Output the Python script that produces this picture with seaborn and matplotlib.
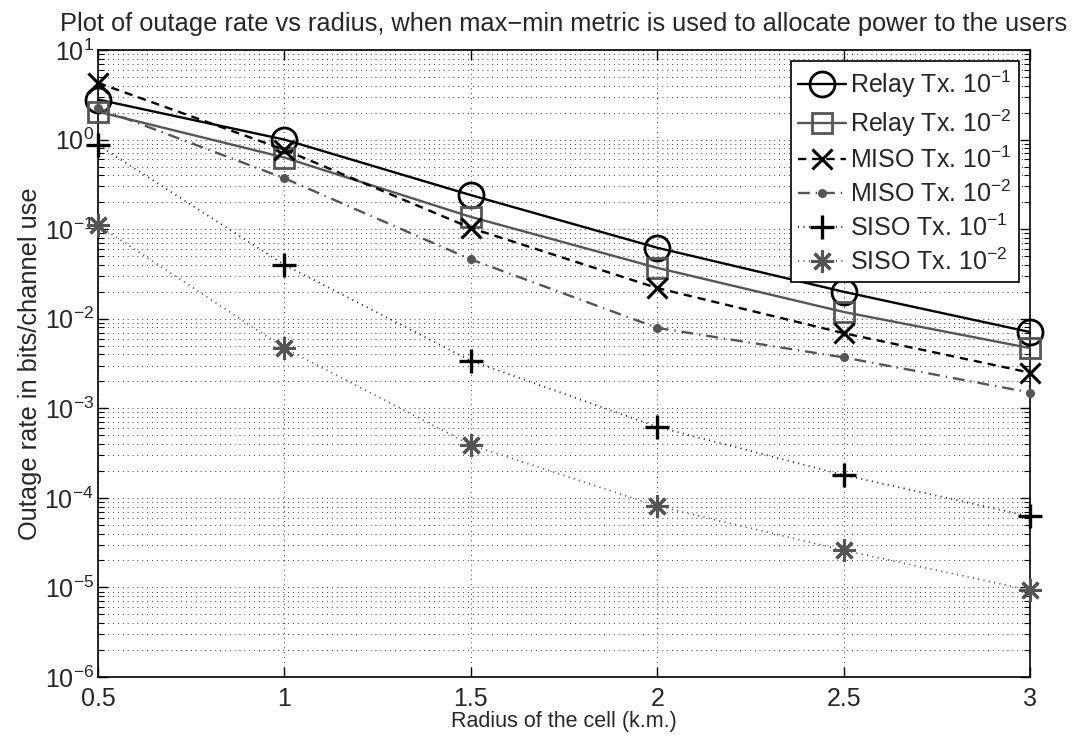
import numpy as np
import pandas as pd
import matplotlib
matplotlib.use("Agg")
import matplotlib.pyplot as plt
import seaborn as sns
from matplotlib.ticker import LogLocator, NullFormatter, FixedLocator, LogFormatterSciNotation

sns.set_style("white")
plt.rcParams['font.family'] = ['Liberation Sans', 'DejaVu Sans']
plt.rcParams['mathtext.fontset'] = 'custom'
plt.rcParams['mathtext.rm'] = 'Liberation Sans'
plt.rcParams['mathtext.it'] = 'Liberation Sans:italic'
plt.rcParams['mathtext.bf'] = 'Liberation Sans:bold'

# ---- data ----
radius = [0.5, 1.0, 1.5, 2.0, 2.5, 3.0]
relay_1 = [2.8, 1.0, 0.24, 0.062, 0.020, 0.0071]
relay_2 = [2.05, 0.63, 0.137, 0.037, 0.0119, 0.0047]
miso_1 = [4.3, 0.77, 0.103, 0.022, 0.0069, 0.0025]
miso_2 = [2.25, 0.37, 0.046, 0.0079, 0.0037, 0.0015]
siso_1 = [0.87, 0.040, 0.0034, 0.00062, 0.00018, 0.000062]
siso_2 = [0.111, 0.0047, 0.00039, 0.000081, 0.000026, 0.0000093]
labels = [r"Relay Tx. $10^{-1}$", r"Relay Tx. $10^{-2}$",
          r"MISO Tx. $10^{-1}$", r"MISO Tx. $10^{-2}$",
          r"SISO Tx. $10^{-1}$", r"SISO Tx. $10^{-2}$"]
title = "Plot of outage rate vs radius, when max\u2212min metric is used to allocate power to the users"
xlabel = "Radius of the cell (k.m.)"
ylabel = "Outage rate in bits/channel use"
x_ticks = [0.5, 1, 1.5, 2, 2.5, 3]
x_ticklabels = ["0.5", "1", "1.5", "2", "2.5", "3"]
y_ticks = [1e-6, 1e-5, 1e-4, 1e-3, 1e-2, 1e-1, 1e0, 1e1]

series = [relay_1, relay_2, miso_1, miso_2, siso_1, siso_2]

gray = "#555555"
styles = [
    dict(color="black", linestyle="-", marker="o", ms=18, mfc="none", mec="black", mew=2.0, lw=1.7),
    dict(color=gray, linestyle="-", marker="s", ms=15, mfc="none", mec=gray, mew=2.0, lw=1.7),
    dict(color="black", linestyle=(0, (3.5, 2.5)), marker="x", ms=14, mfc="none", mec="black", mew=2.2, lw=1.7),
    dict(color=gray, linestyle=(0, (5, 2.5, 0.6, 2.5)), marker="o", ms=5.5, mfc=gray, mec=gray, mew=1.0, lw=1.7),
    dict(color="#222222", linestyle=(0, (0.6, 2.4)), marker="+", ms=17, mfc="none", mec="black", mew=2.4, lw=1.3),
    dict(color=gray, linestyle=(0, (0.6, 2.4)), marker=(8, 2, 0), ms=16, mfc="none", mec=gray, mew=2.2, lw=1.3),
]

fig = plt.figure(figsize=(10.78, 7.42), dpi=100)
ax = fig.add_axes([0.0909, 0.0876, 0.8646, 0.845])

for y, lab, st in zip(series, labels, styles):
    sns.lineplot(x=radius, y=y, ax=ax, label=lab, color=st["color"],
                 linestyle=st["linestyle"], linewidth=st["lw"],
                 marker=st["marker"], markersize=st["ms"],
                 markerfacecolor=st["mfc"], markeredgecolor=st["mec"],
                 markeredgewidth=st["mew"], clip_on=False, zorder=3)

ax.set_yscale("log")
ax.set_xlim(0.5, 3.0)
ax.set_ylim(1e-6, 1e1)
ax.set_xticks(x_ticks)
ax.set_xticklabels(x_ticklabels)
ax.yaxis.set_major_locator(FixedLocator(y_ticks))
ax.yaxis.set_major_formatter(LogFormatterSciNotation())
minor = [m * d for d in y_ticks[:-1] for m in range(2, 10)]
ax.yaxis.set_minor_locator(FixedLocator(minor))
ax.yaxis.set_minor_formatter(NullFormatter())
ax.xaxis.get_offset_text().set_visible(False)
ax.yaxis.get_offset_text().set_visible(False)

ax.grid(True, which="major", axis="both", color="black", linestyle=(0, (1, 4)), linewidth=0.7, alpha=0.75)
ax.grid(True, which="minor", axis="y", color="black", linestyle=(0, (1, 4)), linewidth=0.7, alpha=0.75)
ax.set_axisbelow(True)

for s in ax.spines.values():
    s.set_visible(True)
    s.set_color("black")
    s.set_linewidth(1.2)

ax.tick_params(which="both", direction="in", top=True, right=True, bottom=True, left=True,
               color="black", labelsize=18)
ax.tick_params(which="major", length=7, width=1)
ax.tick_params(which="minor", length=4, width=0.8)
ax.tick_params(axis="x", pad=7)
ax.tick_params(axis="y", pad=3)

ax.set_title(title, fontsize=18.3, pad=14)
ax.set_xlabel(xlabel, fontsize=15.5, labelpad=0)
ax.set_ylabel(ylabel, fontsize=18.3, labelpad=2)

leg = ax.legend(loc="upper right", fontsize=18, frameon=True, fancybox=False,
                edgecolor="black", framealpha=1, handlelength=1.9,
                handletextpad=0.15, labelspacing=0.3, borderaxespad=0.45,
                borderpad=0.3)
leg.get_frame().set_linewidth(1.2)
leg.set_zorder(10)

fig.savefig("out.png", dpi=100)
